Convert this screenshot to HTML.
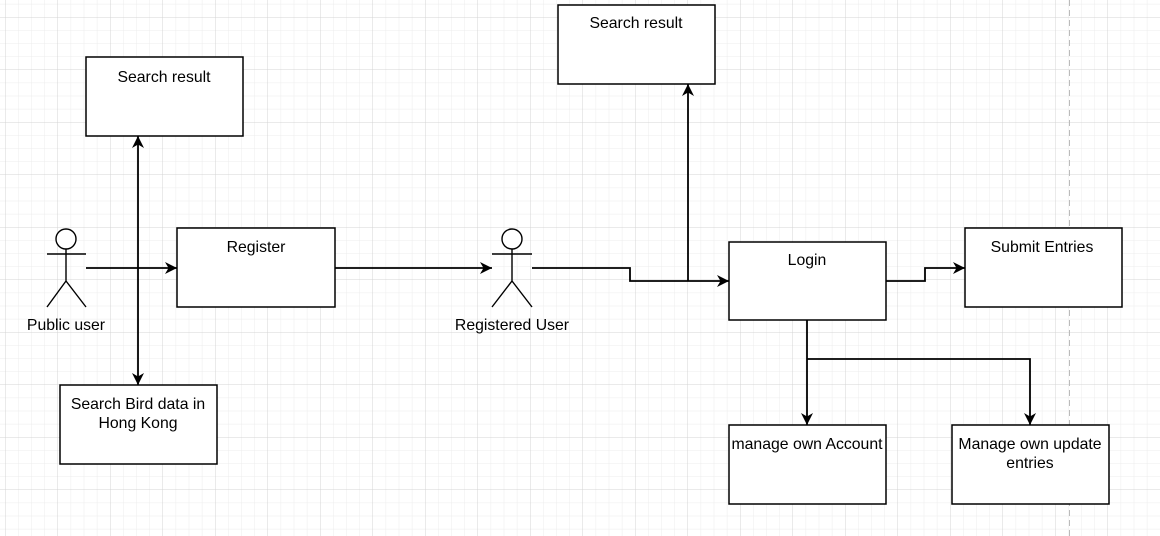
<!DOCTYPE html>
<html><head><meta charset="utf-8"><style>
html,body{margin:0;padding:0;background:#fff}
svg{display:block}
text{font-family:"Liberation Sans",Arial,sans-serif;font-size:15.8px;fill:#000}
</style></head><body>
<svg width="1160" height="536" viewBox="0 0 1160 536" xmlns="http://www.w3.org/2000/svg">
<defs>
<pattern id="minor" width="13.125" height="13.125" patternUnits="userSpaceOnUse" x="5" y="17">
<path d="M0 0H13.125M0 0V13.125" stroke="#ececec" stroke-width="1" fill="none"/>
</pattern>
<pattern id="major" width="52.5" height="52.5" patternUnits="userSpaceOnUse" x="5" y="17">
<path d="M0 0H52.5M0 0V52.5" stroke="#d4d4d4" stroke-width="1" fill="none"/>
</pattern>
<marker id="a" viewBox="0 0 12 12" refX="12" refY="6" markerWidth="12" markerHeight="12" markerUnits="userSpaceOnUse" orient="auto-start-reverse">
<path d="M0 0L12 6L0 12L3.5 6Z" fill="#000"/>
</marker>
</defs>
<rect width="1160" height="536" fill="url(#minor)"/>
<rect width="1160" height="536" fill="url(#major)"/>
<line x1="1069.5" y1="0" x2="1069.5" y2="536" stroke="#bbb" stroke-dasharray="6 4"/>

<g stroke="#000" stroke-width="1.8" fill="none">
<path d="M86 268H177" marker-end="url(#a)"/>
<path d="M138 136V385" marker-start="url(#a)" marker-end="url(#a)"/>
<path d="M335 268H492" marker-end="url(#a)"/>
<path d="M532 268H630V281H729" marker-end="url(#a)"/>
<path d="M688 281V84" marker-end="url(#a)"/>
<path d="M886 281H925V268H965" marker-end="url(#a)"/>
<path d="M807 320V425" marker-end="url(#a)"/>
<path d="M807 359H1030V425" marker-end="url(#a)"/>
</g>

<g stroke="#000" stroke-width="1.5" fill="#fff">
<rect x="86" y="57" width="157" height="79"/>
<rect x="177" y="228" width="158" height="79"/>
<rect x="60" y="385" width="157" height="79"/>
<rect x="558" y="5" width="157" height="79"/>
<rect x="729" y="242" width="157" height="78"/>
<rect x="965" y="228" width="157" height="79"/>
<rect x="729" y="425" width="157" height="79"/>
<rect x="952" y="425" width="157" height="79"/>
</g>

<g stroke="#000" stroke-width="1.4" fill="#fff">
<circle cx="66" cy="239" r="10"/>
<path d="M66 249V281M47 254H86M47 307L66 281L86 307" fill="none"/>
<circle cx="512" cy="239" r="10"/>
<path d="M512 249V281M492 254H532M492 307L512 281L532 307" fill="none"/>
</g>

<g text-anchor="middle">
<text x="164" y="82">Search result</text>
<text x="256" y="252">Register</text>
<text x="138" y="409">Search Bird data in</text>
<text x="138" y="428">Hong Kong</text>
<text x="636" y="28">Search result</text>
<text x="807" y="265">Login</text>
<text x="1042" y="252">Submit Entries</text>
<text x="807" y="449">manage own Account</text>
<text x="1030" y="449">Manage own update</text>
<text x="1030" y="468">entries</text>
<text x="66" y="330">Public user</text>
<text x="512" y="330">Registered User</text>
</g>
</svg>
</body></html>
